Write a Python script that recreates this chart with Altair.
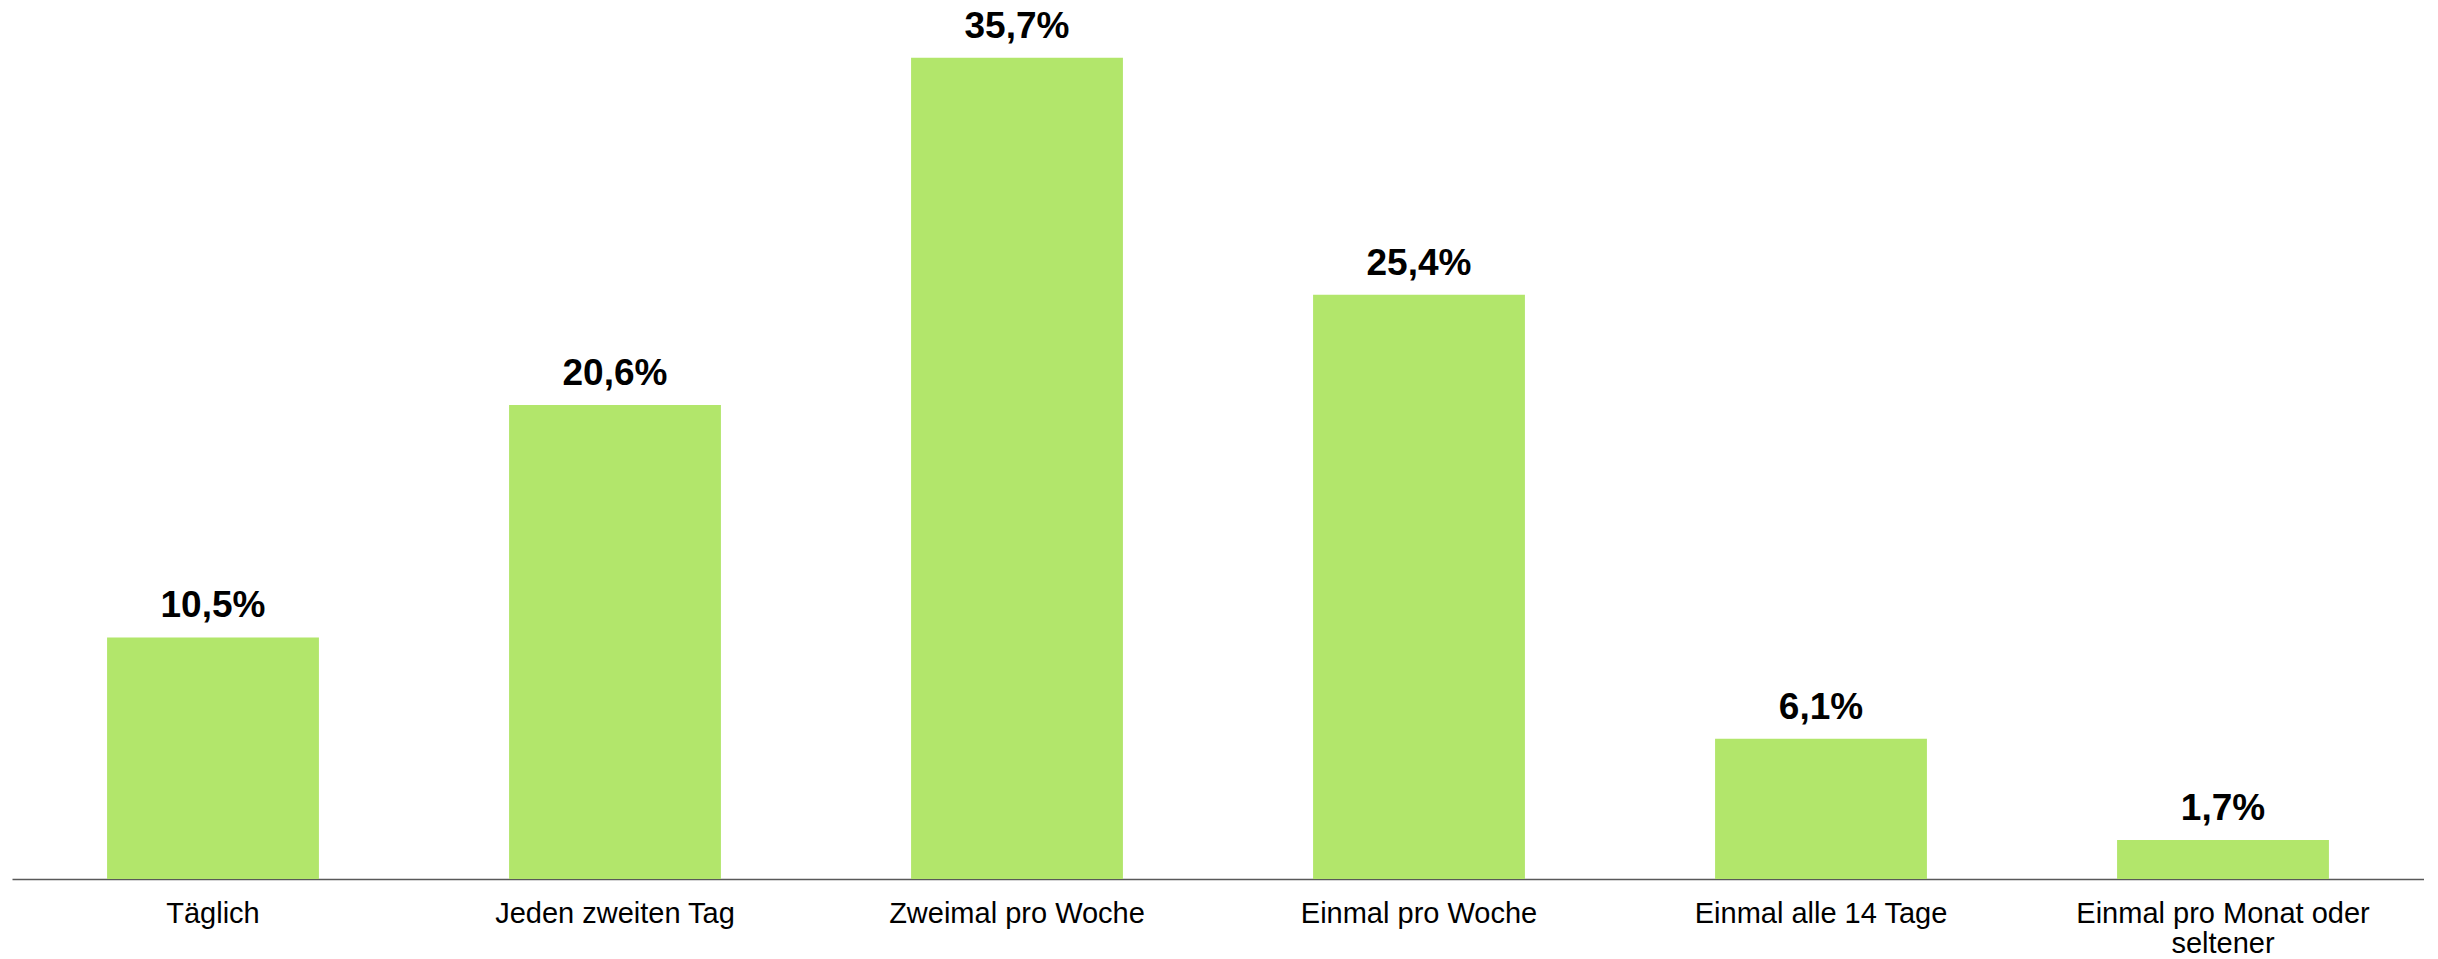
import altair as alt
import pandas as pd

categories = [
    "Täglich",
    "Jeden zweiten Tag",
    "Zweimal pro Woche",
    "Einmal pro Woche",
    "Einmal alle 14 Tage",
    "Einmal pro Monat oder\nseltener",
]
values = [10.5, 20.6, 35.7, 25.4, 6.1, 1.7]

df = pd.DataFrame({"cat": categories, "val": values})

FONT = "Liberation Sans"
BAR_COLOR = "#B2E66B"

x_enc = alt.X(
    "cat:N",
    sort=categories,
    scale=alt.Scale(paddingInner=0.473, paddingOuter=0.2365),
    axis=alt.Axis(
        title=None,
        labelAngle=0,
        labelFont=FONT,
        labelFontSize=29,
        labelColor="#000000",
        labelPadding=20,
        labelLimit=0,
        labelLineHeight=30,
        labelExpr="split(datum.label, '\\n')",
        ticks=False,
        tickSize=0,
        domainColor="#595959",
        domainWidth=1.5,
        grid=False,
    ),
)
y_enc = alt.Y(
    "val:Q",
    scale=alt.Scale(domain=[0, 37.86], nice=False, zero=True),
    axis=None,
)

base = alt.Chart(df)

bars = base.mark_bar(color=BAR_COLOR).encode(x=x_enc, y=y_enc)

labels = base.transform_calculate(
    lbl="replace(format(datum.val, '.1f'), '.', ',') + '%'"
).mark_text(
    font=FONT,
    fontSize=37,
    fontWeight="bold",
    color="#000000",
    baseline="alphabetic",
    align="center",
    dy=-20,
).encode(x=x_enc, y=y_enc, text="lbl:N")

chart = (
    alt.layer(bars, labels)
    .properties(
        width=2412,
        height=871,
        padding={"left": 4, "top": 0, "right": 0, "bottom": 80},
        autosize=alt.AutoSizeParams(type="none"),
    )
    .configure(background="#ffffff")
    .configure_view(stroke="transparent", strokeWidth=0)
)

chart.save("out.html", embed_options={"renderer": "svg", "actions": False})
